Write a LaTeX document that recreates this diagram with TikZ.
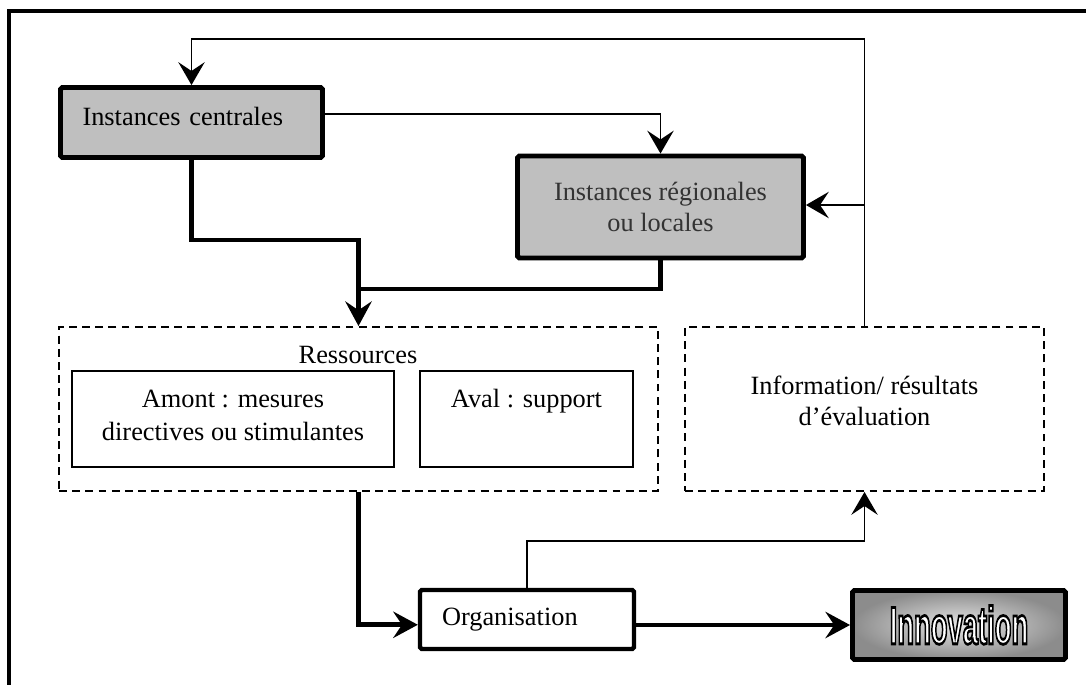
\documentclass[tikz,border=0pt]{standalone}
\usepackage{fontspec}
\setmainfont{Liberation Serif}
\newfontfamily\innofont{Liberation Sans}
\usepackage{xcolor}
\usepackage{graphicx}
\usepackage{tikz}
\usetikzlibrary{arrows.meta, positioning, shapes.geometric}
\tikzstyle{greybox}  = [rectangle, rounded corners=1pt, draw=black, line width=2.8pt,
                        fill=black!25, font=\fontsize{15}{18}\selectfont]
\tikzstyle{plainbox} = [rectangle, draw=black, line width=1pt, align=center,
                        font=\fontsize{15}{19}\selectfont]
\tikzstyle{dashbox}  = [rectangle, draw=black, line width=1.1pt,
                        dash pattern=on 4.5pt off 3pt, align=center,
                        font=\fontsize{15}{17.5}\selectfont]
\tikzstyle{arrow}    = [line width=1.1pt, -{Stealth[length=13pt, width=15pt, inset=5pt]}]
\tikzstyle{bus}      = [line width=2.8pt]
\tikzstyle{busarrow} = [line width=2.8pt, -{Stealth[length=14pt, width=15pt, inset=5pt]}]
% outlined letters: fill white, stroke black
\newcommand{\outlined}[1]{{\color{white}\special{pdf:literal direct 2 Tr 1.6 w 0 G}#1\special{pdf:literal direct 0 Tr}}}

\begin{document}
\begin{tikzpicture}[x=0.02cm, y=-0.02cm]

\useasboundingbox (0,0) rectangle (1086,684);
\draw [line width=2.3pt] (1120,11) -- (9,11) -- (9,720);

\node (centrales)  [greybox, minimum width=5.24cm, minimum height=1.4cm,
                    text width=4.36cm, inner xsep=0.44cm, align=left,
                    text height=11pt, text depth=8pt]
                   at (191.5,122.5) {Instances centrales};
\node (regionales) [greybox, minimum width=5.72cm, minimum height=2.04cm,
                    align=center, text=black!80] at (660.5,207)
                   {Instances régionales\\ou locales};
\node (ressources) [dashbox, minimum width=11.98cm, minimum height=3.28cm]
                   at (358.5,409) {};
\node (reslabel)   [font=\fontsize{15}{17}\selectfont] at (358,355) {Ressources};
\node (amont)      [plainbox, minimum width=6.44cm, minimum height=1.92cm]
                   at (233,419) {Amont~: mesures\\directives ou stimulantes\\[-15pt]};
\node (aval)       [plainbox, minimum width=4.26cm, minimum height=1.92cm]
                   at (526.5,419) {Aval~: support\\\mbox{}\\[-15pt]};
\node (info)       [dashbox, minimum width=7.18cm, minimum height=3.28cm]
                   at (864.5,409) {Information/ résultats\\d’évaluation\\[-8pt]};
\node (organisation) [greybox, fill=white, line width=2.5pt,
                    minimum width=4.28cm, minimum height=1.18cm,
                    text width=3.4cm, inner xsep=0.44cm, align=left]
                   at (527,619.5) {Organisation};
\node (innovation) [greybox, shade, inner color=black!10, outer color=black!45,
                    minimum width=4.26cm, minimum height=1.38cm]
                   at (959,625)
                   {\scalebox{0.52}[1]{\innofont\bfseries\fontsize{30}{32}\selectfont\outlined{Innovation}}};

\coordinate (top)   at (0,39);
\coordinate (elbow) at (358.5,240);
\coordinate (merge) at (358.5,289);
\coordinate (up)    at (0,541);

\draw [arrow] (info.north) -- (info.north |- top) -- (centrales.north |- top)
              -- (centrales.north);
\draw [arrow] (info.north |- 0,205) -- (regionales.east |- 0,205);
\draw [arrow] ([yshift=5pt]centrales.east) -| (regionales.north);
\draw [bus]   (centrales.south) |- (elbow) -- (merge);
\draw [bus]   (regionales.south) |- (merge);
\draw [busarrow] (merge) -- (ressources.north);
\draw [busarrow] (ressources.south) |- ([yshift=-3pt]organisation.west);
\draw [arrow] (organisation.north) -- (organisation.north |- up) -| (info.south);
\draw [busarrow] (organisation.east |- innovation.west) -- (innovation.west);

\end{tikzpicture}
\end{document}
